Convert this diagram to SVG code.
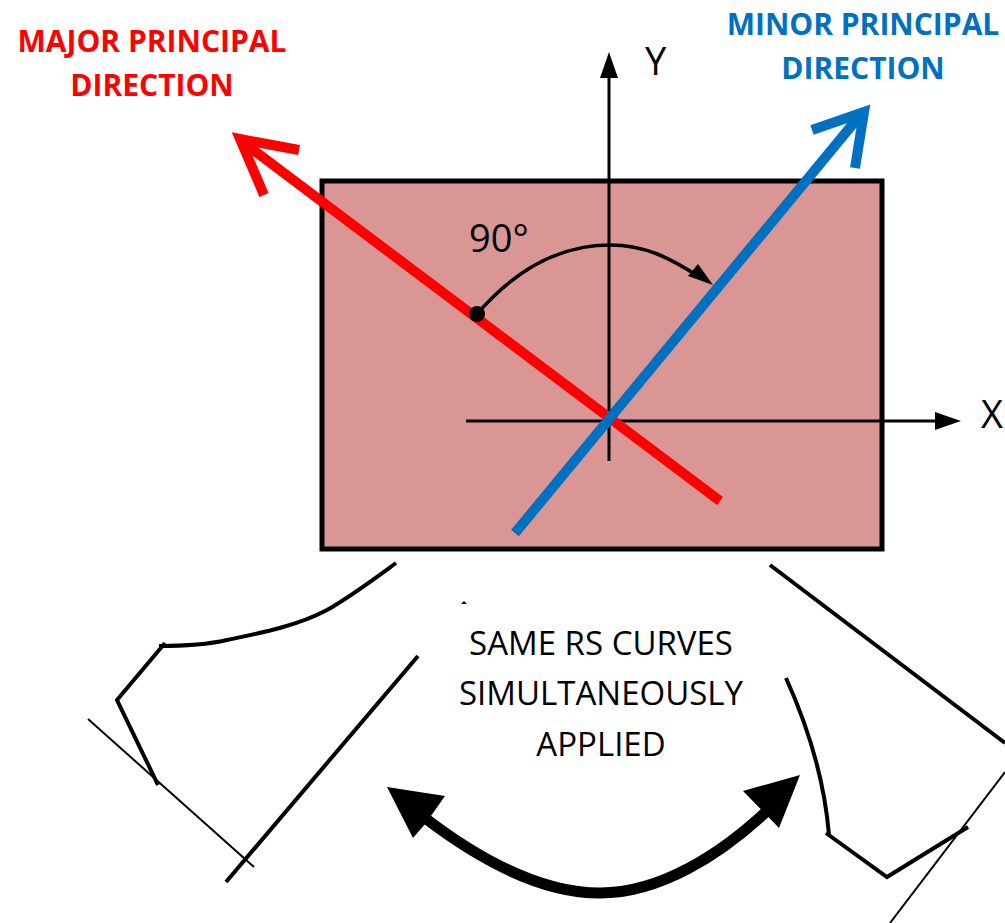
<svg xmlns="http://www.w3.org/2000/svg" width="1005" height="923" viewBox="0 0 1005 923">
<style>
text{font-family:"Open Sans","Noto Sans","Liberation Sans",sans-serif;fill:#000}
.t{font-size:33px;text-anchor:middle}
.h{font-size:30px;font-weight:700;text-anchor:middle}
.a{font-size:38px}
.k{fill:none;stroke:#000;stroke-linejoin:miter}
</style>
<rect width="1005" height="923" fill="#fff"/>
<g id="panel"><rect x="322" y="181" width="560" height="368" fill="#D99694" stroke="#000" stroke-width="5"/></g>
<g id="connectors">
<g id="axes">
<path class="k" stroke-width="3" d="M609,461V74M466,421H938"/>
<path d="M609,52l-9,26h18zM961,421l-26,-9v18z"/>
</g>
<g id="major-direction" fill="none" stroke="#f00" stroke-width="10">
<path d="M720,501L240,140"/>
<path d="M299,150L240,139L264,195"/>
</g>
<g id="minor-direction" fill="none" stroke="#0070C0" stroke-width="10">
<path d="M515,533L862,113"/>
<path d="M812,130L864,112L855,168"/>
</g>
<g id="angle">
<circle cx="477" cy="314" r="8"/>
<path class="k" stroke-width="3.5" d="M477,314C515,270 560,245 610,245C645,245 670,258 698,276"/>
<path d="M713,285L698,264L688,276z"/>
</g>
<g id="left-curve">
<path class="k" stroke-width="4" d="M396,563C370,582 350,597 327,610C295,627 255,634 227,640C205,645 185,646 159,646"/>
<path class="k" stroke-width="4" d="M165,643L117,700L158,785"/>
<path class="k" stroke-width="2" d="M88,719L254,867"/>
<path class="k" stroke-width="4" d="M418,656L226,882"/>
<path d="M461,604l3,-3l3,3z"/>
</g>
<g id="right-curve">
<path class="k" stroke-width="4" d="M770,565L1005,743"/>
<path class="k" stroke-width="4" d="M786,678C805,720 824,775 829,835"/>
<path class="k" stroke-width="4" d="M826,833L887,877L968,827"/>
<path class="k" stroke-width="2" d="M1005,772L890,923"/>
</g>
<g id="double-arrow">
<path class="k" stroke-width="11" d="M425,818C480,860 540,893 600,893C660,893 720,855 768,810"/>
<path d="M387,787L445,796L426,823L413,838zM800,775L743,791L779,828z"/>
</g>
</g>
<g id="labels">
<text class="h" x="152" y="52" fill="#f00" style="fill:#f00">MAJOR PRINCIPAL</text>
<text class="h" x="152" y="96" style="fill:#f00">DIRECTION</text>
<text class="h" x="863" y="35" style="fill:#0070C0">MINOR PRINCIPAL</text>
<text class="h" x="863" y="79" style="fill:#0070C0">DIRECTION</text>
<text class="a" x="645" y="75">Y</text>
<text class="a" x="981" y="428">X</text>
<text class="a" x="469" y="252">90°</text>
<text class="t" x="601" y="655">SAME RS CURVES</text>
<text class="t" x="601" y="705">SIMULTANEOUSLY</text>
<text class="t" x="601" y="756">APPLIED</text>
</g>
</svg>
